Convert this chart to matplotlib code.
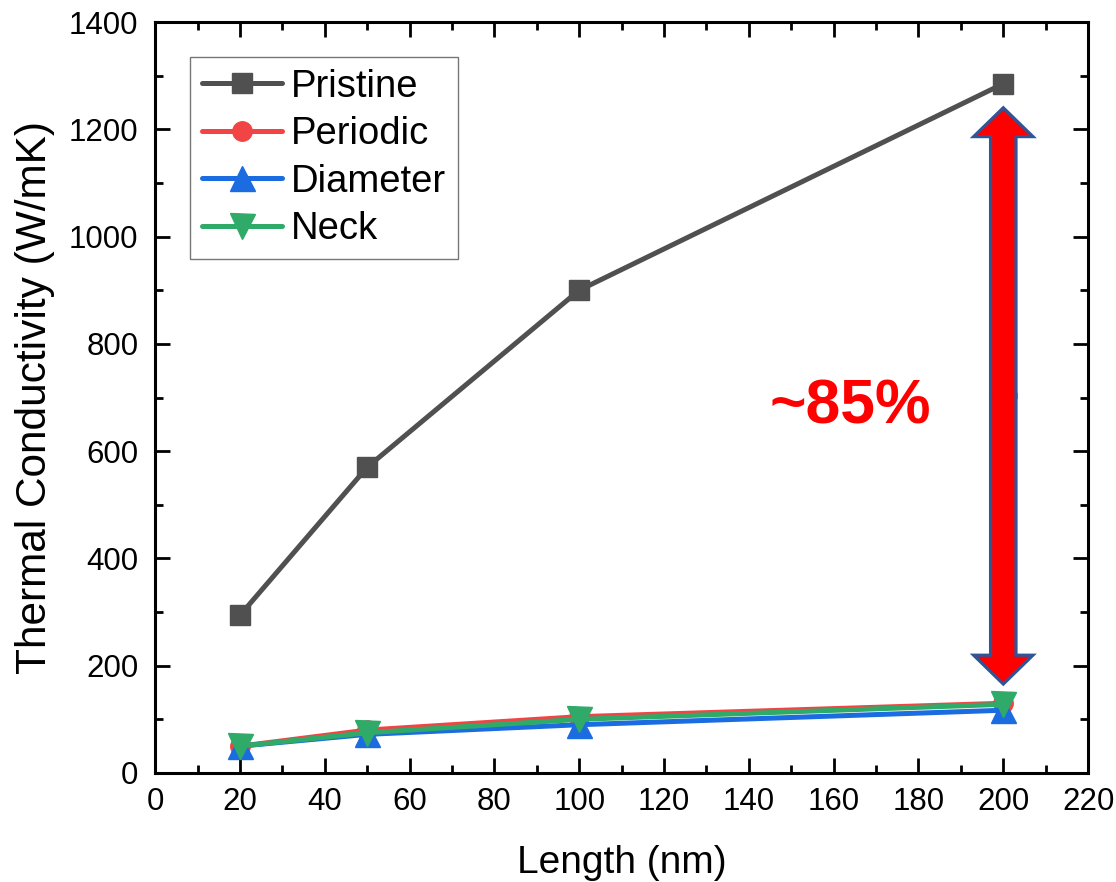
import matplotlib.pyplot as plt
import matplotlib.patches as mpatches
from matplotlib.ticker import MultipleLocator

plt.rcParams['font.family'] = ['Liberation Sans', 'DejaVu Sans']

length = [20, 50, 100, 200]
pristine = [294, 570, 900, 1285]
periodic = [50, 80, 105, 130]
diameter = [50, 72, 90, 117]
neck = [50, 75, 100, 128]

series = [
    ("Pristine", pristine, '#505050', 's', 15),
    ("Periodic", periodic, '#F24444', 'o', 14),
    ("Diameter", diameter, '#1A6CE0', '^', 18),
    ("Neck", neck, '#30AA68', 'v', 18),
]

# arrow ends (data units) and label
arrow_x = 200
arrow_top = 1236
arrow_bottom = 170
note = "~85%"
note_pos = (164, 682)

fig = plt.figure(figsize=(11.16, 8.82), dpi=100)
ax = fig.add_axes([0.139, 0.1236, 0.836, 0.8514])

for name, vals, col, mk, ms in series:
    ax.plot(length, vals, color=col, marker=mk, markersize=ms, lw=3.6,
            label=name, solid_capstyle='round')

ax.set_xlim(0, 220)
ax.set_ylim(0, 1400)
ax.xaxis.set_major_locator(MultipleLocator(20))
ax.xaxis.set_minor_locator(MultipleLocator(10))
ax.yaxis.set_major_locator(MultipleLocator(200))
ax.yaxis.set_minor_locator(MultipleLocator(100))
ax.tick_params(which='both', direction='in', top=True, right=True,
               labeltop=False, labelright=False, width=2)
ax.tick_params(which='major', length=11, labelsize=22.5)
ax.tick_params(axis='y', which='major', pad=12)
ax.tick_params(axis='x', which='major', pad=10)
ax.tick_params(which='minor', length=6)
for sp in ax.spines.values():
    sp.set_linewidth(2.2)

ax.set_xlabel("Length (nm)", fontsize=28, labelpad=20)
ax.set_ylabel("Thermal Conductivity (W/mK)", fontsize=30.5, labelpad=10)

leg = ax.legend(loc='upper left', bbox_to_anchor=(0.0375, 0.953),
                borderaxespad=0, fontsize=27.5, handlelength=2.1,
                handletextpad=0.25, labelspacing=0.3, borderpad=0.3,
                fancybox=False, frameon=True)
leg.get_frame().set_edgecolor('#555555')
leg.get_frame().set_linewidth(1)

# double arrow: blue outline first, red fill on top
mid = (arrow_top + arrow_bottom) / 2
style = mpatches.ArrowStyle.Simple(head_length=18, head_width=37, tail_width=16)
for end in (arrow_top, arrow_bottom):
    a = mpatches.FancyArrowPatch((arrow_x, mid), (arrow_x, end), arrowstyle=style,
                                 mutation_scale=1, shrinkA=0, shrinkB=0,
                                 facecolor='red', edgecolor='#2F5597', lw=4.6,
                                 joinstyle='miter', zorder=5)
    ax.add_patch(a)
for end in (arrow_top, arrow_bottom):
    a = mpatches.FancyArrowPatch((arrow_x, mid), (arrow_x, end), arrowstyle=style,
                                 mutation_scale=1, shrinkA=0, shrinkB=0,
                                 facecolor='red', edgecolor='none', lw=0,
                                 zorder=6)
    ax.add_patch(a)

ax.text(note_pos[0], note_pos[1], note, color='red', fontsize=45,
        fontweight='bold', ha='center', va='center')

fig.savefig("out.png", dpi=100)
